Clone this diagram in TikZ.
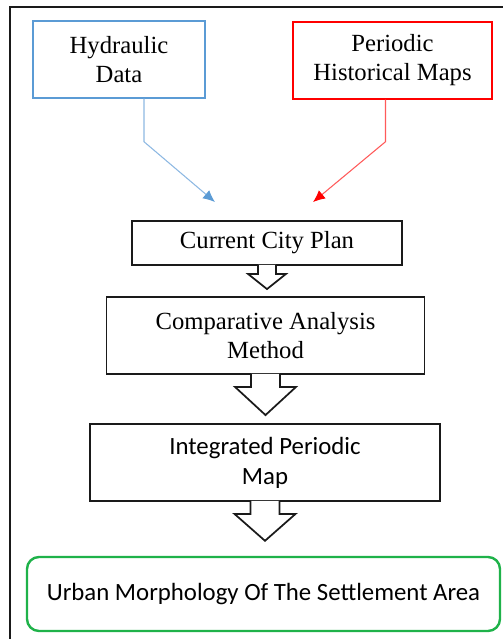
\documentclass[tikz,border=0pt]{standalone}
\usepackage{fontspec}
\setmainfont{Liberation Serif}
\newfontfamily\calibrifont{Carlito}
\usetikzlibrary{arrows.meta, positioning, calc}
\definecolor{hydblue}{HTML}{5B9BD5}
\definecolor{hydline}{HTML}{8DB8E2}
\definecolor{mapred}{HTML}{FF0000}
\definecolor{mapline}{HTML}{FF5A5A}
\definecolor{urbgreen}{HTML}{1FB24A}
\definecolor{framegray}{HTML}{1A1A1A}
\tikzset{
  inbox/.style={draw, line width=1.1pt, align=center, inner sep=0pt,
    font=\fontsize{18.5}{21.75}\selectfont},
  stagebox/.style={draw=framegray, line width=1.4pt, align=center, inner sep=0pt,
    font=\fontsize{18.5}{21.75}\selectfont},
  sansbox/.style={stagebox, font=\calibrifont\fontsize{18.6}{22.5}\selectfont},
  feedline/.style={line width=0.8pt},
  blockarrow/.style={draw=framegray, fill=white, line width=1.3pt, line join=miter}
}

\begin{document}
\begin{tikzpicture}[x=0.75pt, y=-0.75pt]
  \useasboundingbox (0,0) rectangle (503,639);

  % outer frame (cut off at right and bottom)
  \draw[framegray, line width=1.5pt] (503,7) -- (10,7) -- (10,639);

  % input boxes
  \node[inbox, draw=hydblue, minimum width=129pt, minimum height=57.75pt] (hyd) at (119,59.5) {Hydraulic\\Data};
  \node[inbox, draw=mapred, minimum width=149.25pt, minimum height=57.75pt] (maps) at (392.5,60.5) {Periodic\\Historical Maps};

  % main chain
  \node[stagebox, minimum width=202.5pt, minimum height=33pt] (plan) at (267,243) {Current City Plan};
  \node[stagebox, minimum width=238.5pt, minimum height=57.75pt] (comp) at (265.5,335.5) {Comparative Analysis\\Method};
  \node[sansbox, minimum width=262.5pt, minimum height=57.75pt] (integ) at (265,462.5) {Integrated Periodic\\Map};
  \node[sansbox, draw=urbgreen, line width=1.8pt, rounded corners=9pt, minimum width=354.75pt, minimum height=55.5pt] (urban) at (263.5,594) {Urban Morphology Of The Settlement Area};

  % feeds into the city plan
  \coordinate (bluein) at ($(plan.north)+(-52,-18)$);
  \coordinate (redin) at ($(plan.north)+(46,-18)$);
  \draw[feedline, hydline, -{Latex[length=9pt, width=8pt, color=hydblue]}]
    ($(hyd.south)+(25,0)$) -- ++(0,43) -- (bluein);
  \draw[feedline, mapline, -{Latex[length=9pt, width=8pt, color=mapred]}]
    ($(maps.south)+(-7,0)$) -- ++(0,42) -- (redin);

  % block arrows between stages
  \foreach \a/\b/\s/\h/\k/\g in {plan/comp/9/19/8/7, comp/integ/14.5/30.5/12/8, integ/urban/14.5/30.5/12/15} {
    \coordinate (tip) at ($(\b.north)+(0,-\g)$);
    \draw[blockarrow] ($(\a.south)+(-\s,-1)$) -- ++(0,{\k+1}) -- ++({\s-\h},0)
      -- (\a.south |- tip) -- ($(\a.south)+(\h,\k)$) -- ++({\s-\h},0) -- ++(0,{-\k-1});
  }
\end{tikzpicture}
\end{document}
